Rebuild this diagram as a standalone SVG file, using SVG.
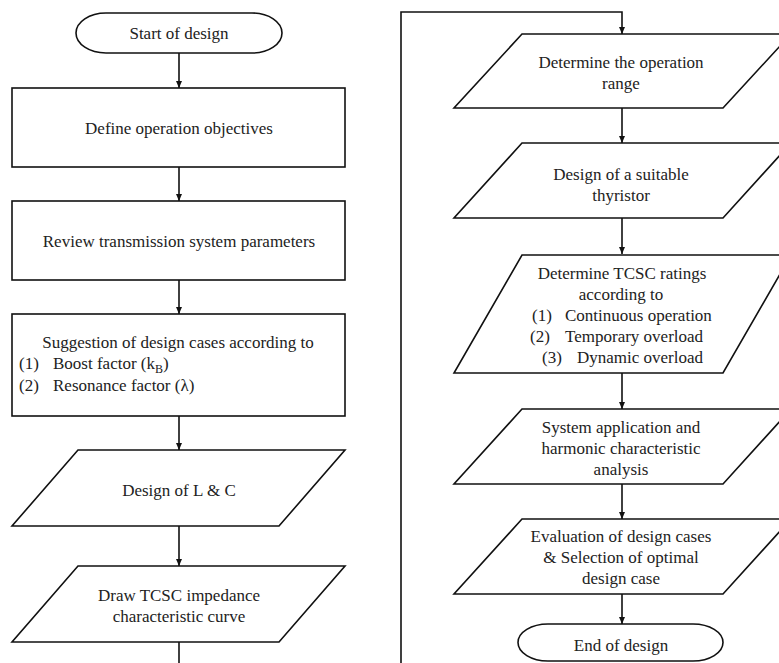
<svg xmlns="http://www.w3.org/2000/svg" width="779" height="663" viewBox="0 0 779 663">
<style>
.s{fill:#fff;stroke:#111;stroke-width:1.6}
.t{font-family:'Liberation Serif','Times New Roman','DejaVu Serif',serif;font-size:17px;fill:#222;text-anchor:middle}
.l{text-anchor:start}
.c{fill:none;stroke:#111;stroke-width:1.6}
</style>
<defs>
<marker id="ah" markerWidth="8" markerHeight="8" refX="7" refY="4" orient="auto" markerUnits="userSpaceOnUse">
<path d="M0,1 L7,4 L0,7 Z" fill="#111"/>
</marker>
</defs>
<rect width="779" height="663" fill="#fff"/>
<g id="connectors">
<path class="c" d="M179,53 V88" marker-end="url(#ah)"/>
<path class="c" d="M179,167 V201" marker-end="url(#ah)"/>
<path class="c" d="M179,280 V314" marker-end="url(#ah)"/>
<path class="c" d="M179,416 V450" marker-end="url(#ah)"/>
<path class="c" d="M179,526 V566" marker-end="url(#ah)"/>
<path class="c" d="M179,642 V663"/>
<path class="c" d="M401,663 V12 H622 V34" marker-end="url(#ah)"/>
<path class="c" d="M622,108 V143" marker-end="url(#ah)"/>
<path class="c" d="M622,218 V254" marker-end="url(#ah)"/>
<path class="c" d="M622,373 V409" marker-end="url(#ah)"/>
<path class="c" d="M622,484 V519" marker-end="url(#ah)"/>
<path class="c" d="M622,594 V624" marker-end="url(#ah)"/>
</g>
<g id="start">
<rect class="s" x="76" y="13" width="206" height="40" rx="30" ry="20"/>
<text class="t" x="179" y="39" font-family="Liberation Serif, serif">Start of design</text>
</g>
<g id="objectives">
<rect class="s" x="12" y="88" width="333" height="79"/>
<text class="t" x="179" y="134">Define operation objectives</text>
</g>
<g id="review">
<rect class="s" x="12" y="201" width="333" height="79"/>
<text class="t" x="179" y="247">Review transmission system parameters</text>
</g>
<g id="suggestion">
<rect class="s" x="12" y="314" width="333" height="102"/>
<text class="t" x="178" y="348">Suggestion of design cases according to</text>
<text class="t l" x="19" y="369">(1)</text>
<text class="t l" x="53" y="369">Boost factor (k<tspan font-size="12" dy="4">B</tspan><tspan dy="-4">)</tspan></text>
<text class="t l" x="19" y="391">(2)</text>
<text class="t l" x="53" y="391">Resonance factor (λ)</text>
</g>
<g id="design-lc">
<path class="s" d="M78,450 H345 L279,526 H12 Z"/>
<text class="t" x="179" y="496">Design of L &amp; C</text>
</g>
<g id="draw-curve">
<path class="s" d="M78,566 H345 L279,642 H12 Z"/>
<text class="t" x="179" y="601">Draw TCSC impedance</text>
<text class="t" x="179" y="622">characteristic curve</text>
</g>
<g id="operation-range">
<path class="s" d="M522,34 H791 L723,108 H454 Z"/>
<text class="t" x="621" y="68">Determine the operation</text>
<text class="t" x="621" y="89">range</text>
</g>
<g id="thyristor">
<path class="s" d="M522,143 H791 L723,218 H454 Z"/>
<text class="t" x="621" y="180">Design of a suitable</text>
<text class="t" x="621" y="201">thyristor</text>
</g>
<g id="ratings">
<path class="s" d="M522,255 H791 L723,373 H454 Z"/>
<text class="t" x="622" y="279">Determine TCSC ratings</text>
<text class="t" x="621" y="300">according to</text>
<text class="t l" x="532" y="321">(1)</text>
<text class="t l" x="565" y="321">Continuous operation</text>
<text class="t l" x="530" y="342">(2)</text>
<text class="t l" x="565" y="342">Temporary overload</text>
<text class="t l" x="542" y="363">(3)</text>
<text class="t l" x="577" y="363">Dynamic overload</text>
</g>
<g id="harmonic">
<path class="s" d="M522,409 H791 L723,484 H454 Z"/>
<text class="t" x="621" y="433">System application and</text>
<text class="t" x="621" y="454">harmonic characteristic</text>
<text class="t" x="621" y="475">analysis</text>
</g>
<g id="evaluation">
<path class="s" d="M522,519 H791 L723,594 H454 Z"/>
<text class="t" x="621" y="542">Evaluation of design cases</text>
<text class="t" x="621" y="563">&amp; Selection of optimal</text>
<text class="t" x="621" y="584">design case</text>
</g>
<g id="end">
<rect class="s" x="518" y="624" width="205" height="37" rx="30" ry="18.5"/>
<text class="t" x="621" y="651">End of design</text>
</g>
</svg>
